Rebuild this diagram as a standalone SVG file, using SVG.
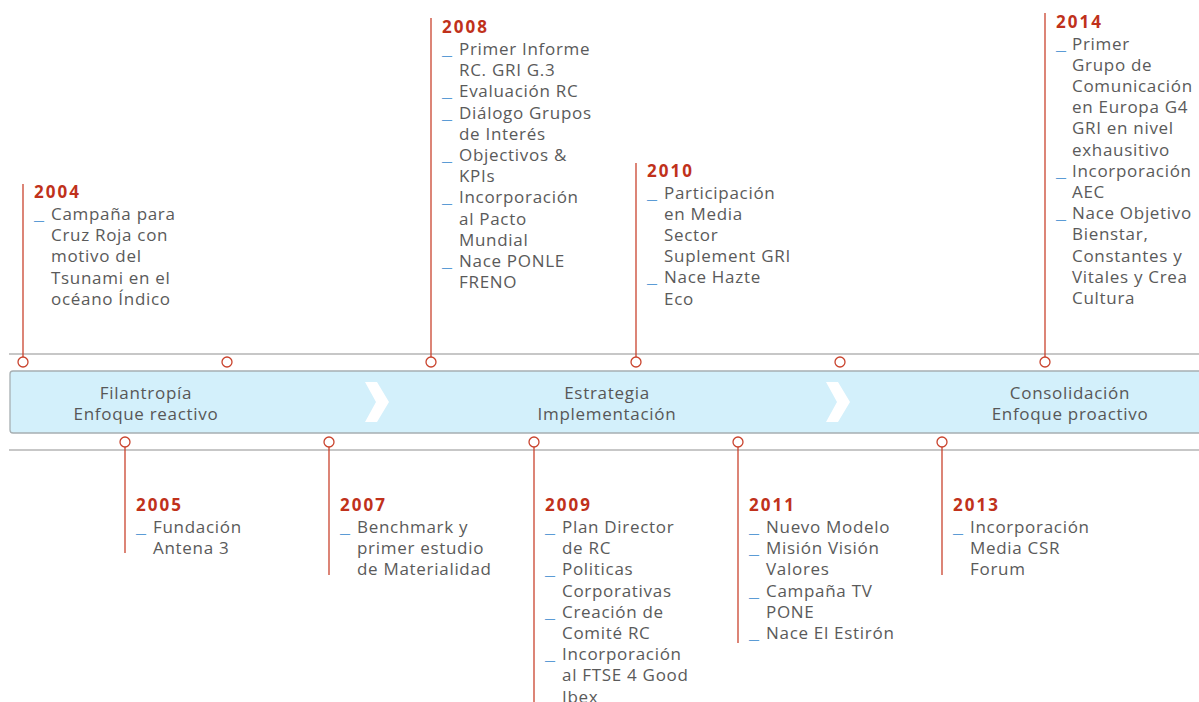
<svg xmlns="http://www.w3.org/2000/svg" width="1199" height="702" viewBox="0 0 1199 702">
  <style>
    .rule { stroke: #b4b4b4; stroke-width: 1.5; fill: none; }
    .band { fill: #d3f0fb; stroke: #a7afb2; stroke-width: 1.3; }
    .chev { fill: #ffffff; }
    .phase { font-family: "Open Sans", "Liberation Sans", sans-serif; font-size: 17px; fill: #575757; letter-spacing: 0.7px; text-anchor: middle; }
    .stem { stroke: #c9432d; stroke-width: 1.3; fill: none; }
    .dot { fill: #ffffff; stroke: #c9432d; stroke-width: 1.3; }
    .yr { font-family: "Open Sans", "Liberation Sans", sans-serif; font-size: 17px; font-weight: bold; fill: #c0311b; letter-spacing: 2px; }
    .it { font-family: "Open Sans", "Liberation Sans", sans-serif; font-size: 17px; fill: #5a5a5a; letter-spacing: 0.7px; }
    .bl { font-family: "Open Sans", "Liberation Sans", sans-serif; font-size: 17px; fill: #5b9bd5; }
  </style>

  <!-- timeline axis: guide rules and the phase band -->
  <g id="axis">
    <line class="rule" x1="9" y1="354" x2="1199" y2="354"/>
    <line class="rule" x1="9" y1="450" x2="1199" y2="450"/>
    <rect class="band" x="10" y="371" width="1210" height="62" rx="3"/>
  </g>

  <!-- phases along the band -->
  <g id="phase-filantropia">
    <text class="phase" x="146" y="399">Filantropía</text>
    <text class="phase" x="146" y="420">Enfoque reactivo</text>
  </g>
  <polygon class="chev" points="365,382 377,382 389,402 377,422 365,422 376,402"/>
  <g id="phase-estrategia">
    <text class="phase" x="607" y="399">Estrategia</text>
    <text class="phase" x="607" y="420">Implementación</text>
  </g>
  <polygon class="chev" points="826,382 838,382 850,402 838,422 826,422 837,402"/>
  <g id="phase-consolidacion">
    <text class="phase" x="1070" y="399">Consolidación</text>
    <text class="phase" x="1070" y="420">Enfoque proactivo</text>
  </g>

  <!-- stems joining each year marker to its notes -->
  <g id="connectors">
    <line class="stem" x1="23" y1="184" x2="23" y2="357"/>
    <line class="stem" x1="431" y1="18" x2="431" y2="357"/>
    <line class="stem" x1="636" y1="163" x2="636" y2="357"/>
    <line class="stem" x1="1045" y1="13" x2="1045" y2="357"/>
    <line class="stem" x1="125" y1="447" x2="125" y2="553"/>
    <line class="stem" x1="329" y1="447" x2="329" y2="575"/>
    <line class="stem" x1="534" y1="447" x2="534" y2="702"/>
    <line class="stem" x1="738" y1="447" x2="738" y2="643"/>
    <line class="stem" x1="942" y1="447" x2="942" y2="575"/>
  </g>

  <!-- unlabelled year ticks -->
  <g id="ticks">
    <circle class="dot" cx="227" cy="362" r="5"/>
    <circle class="dot" cx="840" cy="362" r="5"/>
  </g>

  <g id="y2004">
    <circle class="dot" cx="23" cy="362" r="5"/>
    <text class="yr" x="34" y="198">2004</text>
    <text class="bl" x="34" y="220" textLength="10" lengthAdjust="spacingAndGlyphs">_</text>
    <text class="it" x="51" y="220">Campaña para</text>
    <text class="it" x="51" y="241.2">Cruz Roja con</text>
    <text class="it" x="51" y="262.4">motivo del</text>
    <text class="it" x="51" y="283.6">Tsunami en el</text>
    <text class="it" x="51" y="304.8">océano Índico</text>
  </g>

  <g id="y2005">
    <circle class="dot" cx="125" cy="442" r="5"/>
    <text class="yr" x="136" y="511">2005</text>
    <text class="bl" x="136" y="533" textLength="10" lengthAdjust="spacingAndGlyphs">_</text>
    <text class="it" x="153" y="533">Fundación</text>
    <text class="it" x="153" y="554.2">Antena 3</text>
  </g>

  <g id="y2007">
    <circle class="dot" cx="329" cy="442" r="5"/>
    <text class="yr" x="340" y="511">2007</text>
    <text class="bl" x="340" y="533" textLength="10" lengthAdjust="spacingAndGlyphs">_</text>
    <text class="it" x="357" y="533">Benchmark y</text>
    <text class="it" x="357" y="554.2">primer estudio</text>
    <text class="it" x="357" y="575.4">de Materialidad</text>
  </g>

  <g id="y2008">
    <circle class="dot" cx="431" cy="362" r="5"/>
    <text class="yr" x="442" y="33">2008</text>
    <text class="bl" x="442" y="55" textLength="10" lengthAdjust="spacingAndGlyphs">_</text>
    <text class="it" x="459" y="55">Primer Informe</text>
    <text class="it" x="459" y="76.2">RC. GRI G.3</text>
    <text class="bl" x="442" y="97.4" textLength="10" lengthAdjust="spacingAndGlyphs">_</text>
    <text class="it" x="459" y="97.4">Evaluación RC</text>
    <text class="bl" x="442" y="118.6" textLength="10" lengthAdjust="spacingAndGlyphs">_</text>
    <text class="it" x="459" y="118.6">Diálogo Grupos</text>
    <text class="it" x="459" y="139.8">de Interés</text>
    <text class="bl" x="442" y="161" textLength="10" lengthAdjust="spacingAndGlyphs">_</text>
    <text class="it" x="459" y="161">Objectivos &amp;</text>
    <text class="it" x="459" y="182.2">KPIs</text>
    <text class="bl" x="442" y="203.4" textLength="10" lengthAdjust="spacingAndGlyphs">_</text>
    <text class="it" x="459" y="203.4">Incorporación</text>
    <text class="it" x="459" y="224.6">al Pacto</text>
    <text class="it" x="459" y="245.8">Mundial</text>
    <text class="bl" x="442" y="267" textLength="10" lengthAdjust="spacingAndGlyphs">_</text>
    <text class="it" x="459" y="267">Nace PONLE</text>
    <text class="it" x="459" y="288.2">FRENO</text>
  </g>

  <g id="y2009">
    <circle class="dot" cx="534" cy="442" r="5"/>
    <text class="yr" x="545" y="511">2009</text>
    <text class="bl" x="545" y="533" textLength="10" lengthAdjust="spacingAndGlyphs">_</text>
    <text class="it" x="562" y="533">Plan Director</text>
    <text class="it" x="562" y="554.2">de RC</text>
    <text class="bl" x="545" y="575.4" textLength="10" lengthAdjust="spacingAndGlyphs">_</text>
    <text class="it" x="562" y="575.4">Politicas</text>
    <text class="it" x="562" y="596.6">Corporativas</text>
    <text class="bl" x="545" y="617.8" textLength="10" lengthAdjust="spacingAndGlyphs">_</text>
    <text class="it" x="562" y="617.8">Creación de</text>
    <text class="it" x="562" y="639">Comité RC</text>
    <text class="bl" x="545" y="660.2" textLength="10" lengthAdjust="spacingAndGlyphs">_</text>
    <text class="it" x="562" y="660.2">Incorporación</text>
    <text class="it" x="562" y="681.4">al FTSE 4 Good</text>
    <text class="it" x="562" y="702.6">Ibex</text>
  </g>

  <g id="y2010">
    <circle class="dot" cx="636" cy="362" r="5"/>
    <text class="yr" x="647" y="177">2010</text>
    <text class="bl" x="647" y="198.5" textLength="10" lengthAdjust="spacingAndGlyphs">_</text>
    <text class="it" x="664" y="198.5">Participación</text>
    <text class="it" x="664" y="219.7">en Media</text>
    <text class="it" x="664" y="240.9">Sector</text>
    <text class="it" x="664" y="262.1">Suplement GRI</text>
    <text class="bl" x="647" y="283.3" textLength="10" lengthAdjust="spacingAndGlyphs">_</text>
    <text class="it" x="664" y="283.3">Nace Hazte</text>
    <text class="it" x="664" y="304.5">Eco</text>
  </g>

  <g id="y2011">
    <circle class="dot" cx="738" cy="442" r="5"/>
    <text class="yr" x="749" y="511">2011</text>
    <text class="bl" x="749" y="533" textLength="10" lengthAdjust="spacingAndGlyphs">_</text>
    <text class="it" x="766" y="533">Nuevo Modelo</text>
    <text class="bl" x="749" y="554.2" textLength="10" lengthAdjust="spacingAndGlyphs">_</text>
    <text class="it" x="766" y="554.2">Misión Visión</text>
    <text class="it" x="766" y="575.4">Valores</text>
    <text class="bl" x="749" y="596.6" textLength="10" lengthAdjust="spacingAndGlyphs">_</text>
    <text class="it" x="766" y="596.6">Campaña TV</text>
    <text class="it" x="766" y="617.8">PONE</text>
    <text class="bl" x="749" y="639" textLength="10" lengthAdjust="spacingAndGlyphs">_</text>
    <text class="it" x="766" y="639">Nace El Estirón</text>
  </g>

  <g id="y2013">
    <circle class="dot" cx="942" cy="442" r="5"/>
    <text class="yr" x="953" y="511">2013</text>
    <text class="bl" x="953" y="533" textLength="10" lengthAdjust="spacingAndGlyphs">_</text>
    <text class="it" x="970" y="533">Incorporación</text>
    <text class="it" x="970" y="554.2">Media CSR</text>
    <text class="it" x="970" y="575.4">Forum</text>
  </g>

  <g id="y2014">
    <circle class="dot" cx="1045" cy="362" r="5"/>
    <text class="yr" x="1056" y="27.5">2014</text>
    <text class="bl" x="1056" y="49.5" textLength="10" lengthAdjust="spacingAndGlyphs">_</text>
    <text class="it" x="1072" y="49.5">Primer</text>
    <text class="it" x="1072" y="70.7">Grupo de</text>
    <text class="it" x="1072" y="91.9">Comunicación</text>
    <text class="it" x="1072" y="113.1">en Europa G4</text>
    <text class="it" x="1072" y="134.3">GRI en nivel</text>
    <text class="it" x="1072" y="155.5">exhausitivo</text>
    <text class="bl" x="1056" y="176.7" textLength="10" lengthAdjust="spacingAndGlyphs">_</text>
    <text class="it" x="1072" y="176.7">Incorporación</text>
    <text class="it" x="1072" y="197.9">AEC</text>
    <text class="bl" x="1056" y="219.1" textLength="10" lengthAdjust="spacingAndGlyphs">_</text>
    <text class="it" x="1072" y="219.1">Nace Objetivo</text>
    <text class="it" x="1072" y="240.3">Bienstar,</text>
    <text class="it" x="1072" y="261.5">Constantes y</text>
    <text class="it" x="1072" y="282.7">Vitales y Crea</text>
    <text class="it" x="1072" y="303.9">Cultura</text>
  </g>
</svg>
